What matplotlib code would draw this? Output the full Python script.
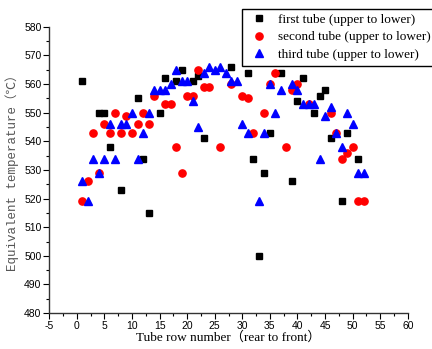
import matplotlib.pyplot as plt
from matplotlib.ticker import MultipleLocator

plt.rcParams['axes.unicode_minus'] = False

# first tube (black squares)
x1 = [1, 4, 5, 6, 8, 11, 12, 13, 15, 16, 18, 19, 21, 22, 23, 28, 31, 32, 33, 34,
      35, 37, 39, 40, 41, 43, 44, 45, 46, 48, 49, 51]
t1 = [561, 550, 550, 538, 523, 555, 534, 515, 550, 562, 561, 565, 561, 563, 541, 566, 564, 534, 500, 529,
      543, 564, 526, 554, 562, 550, 556, 558, 541, 519, 543, 534]

# second tube (red circles)
x2 = [1, 2, 3, 4, 5, 6, 7, 8, 9, 10, 11, 12, 13, 14, 16, 17, 18, 19, 20, 21,
      22, 23, 24, 26, 28, 30, 31, 32, 34, 35, 36, 38, 39, 40, 42, 46, 47, 48, 49, 50,
      51, 52]
t2 = [519, 526, 543, 529, 546, 543, 550, 543, 549, 543, 546, 550, 546, 556, 553, 553, 538, 529, 556, 556,
      565, 559, 559, 538, 560, 556, 555, 543, 550, 560, 564, 538, 558, 560, 553, 550, 543, 534, 536, 538,
      519, 519]

# third tube (blue triangles)
x3 = [1, 2, 3, 4, 5, 6, 7, 8, 9, 10, 11, 12, 13, 14, 15, 16, 17, 18, 19, 20,
      21, 22, 23, 24, 25, 26, 27, 28, 29, 30, 31, 33, 34, 35, 36, 37, 39, 40, 41, 42,
      43, 44, 45, 46, 47, 48, 49, 50, 51, 52]
t3 = [526, 519, 534, 529, 534, 546, 534, 546, 546, 550, 534, 543, 550, 558, 558, 558, 560, 565, 561, 561,
      554, 545, 564, 566, 565, 566, 564, 561, 561, 546, 543, 519, 543, 560, 550, 558, 560, 558, 553, 553,
      553, 534, 549, 552, 543, 538, 550, 546, 529, 529]

labels = ['first tube (upper to lower)', 'second tube (upper to lower)', 'third tube (upper to lower)']

fig = plt.figure(figsize=(4.32, 3.49), dpi=100)
ax = fig.add_axes([0.114, 0.103, 0.83, 0.82])

ax.plot(x1, t1, 's', color='black', markersize=4.6, linestyle='none', label=labels[0])
ax.plot(x2, t2, 'o', color='red', markersize=5.2, linestyle='none', label=labels[1])
ax.plot(x3, t3, '^', color='blue', markersize=5.8, linestyle='none', label=labels[2])

ax.set_xlim(-5, 60)
ax.set_ylim(480, 580)
ax.xaxis.set_major_locator(MultipleLocator(5))
ax.xaxis.set_minor_locator(MultipleLocator(2.5))
ax.yaxis.set_major_locator(MultipleLocator(10))
ax.yaxis.set_minor_locator(MultipleLocator(5))

for side in ['top', 'right']:
    ax.spines[side].set_visible(False)
for side in ['left', 'bottom']:
    ax.spines[side].set_linewidth(1.0)
    ax.spines[side].set_color('#333333')

ax.tick_params(which='major', direction='out', length=4, width=0.8, labelsize=7.5, pad=1.5)
ax.tick_params(which='minor', direction='out', length=2.5, width=0.8)
for lbl in ax.get_xticklabels() + ax.get_yticklabels():
    lbl.set_family('Liberation Sans')

ax.set_xlabel('Tube row number（rear to front）', family=['Liberation Serif', 'Noto Sans CJK SC'],
              fontsize=9.5, labelpad=0)
ax.set_ylabel('Equivalent temperature（℃）', family=['Liberation Mono', 'Noto Sans CJK SC'],
              fontsize=9, labelpad=4, color='#555555')

fig.legend(loc='upper left', bbox_to_anchor=(241.5 / 432, 1 - 9 / 349),
           prop={'family': 'Liberation Serif', 'size': 9.5},
           frameon=True, fancybox=False, edgecolor='black', framealpha=1,
           borderaxespad=0, handletextpad=0.4, labelspacing=0.4, borderpad=0.35)

fig.savefig('out.png', dpi=100)
